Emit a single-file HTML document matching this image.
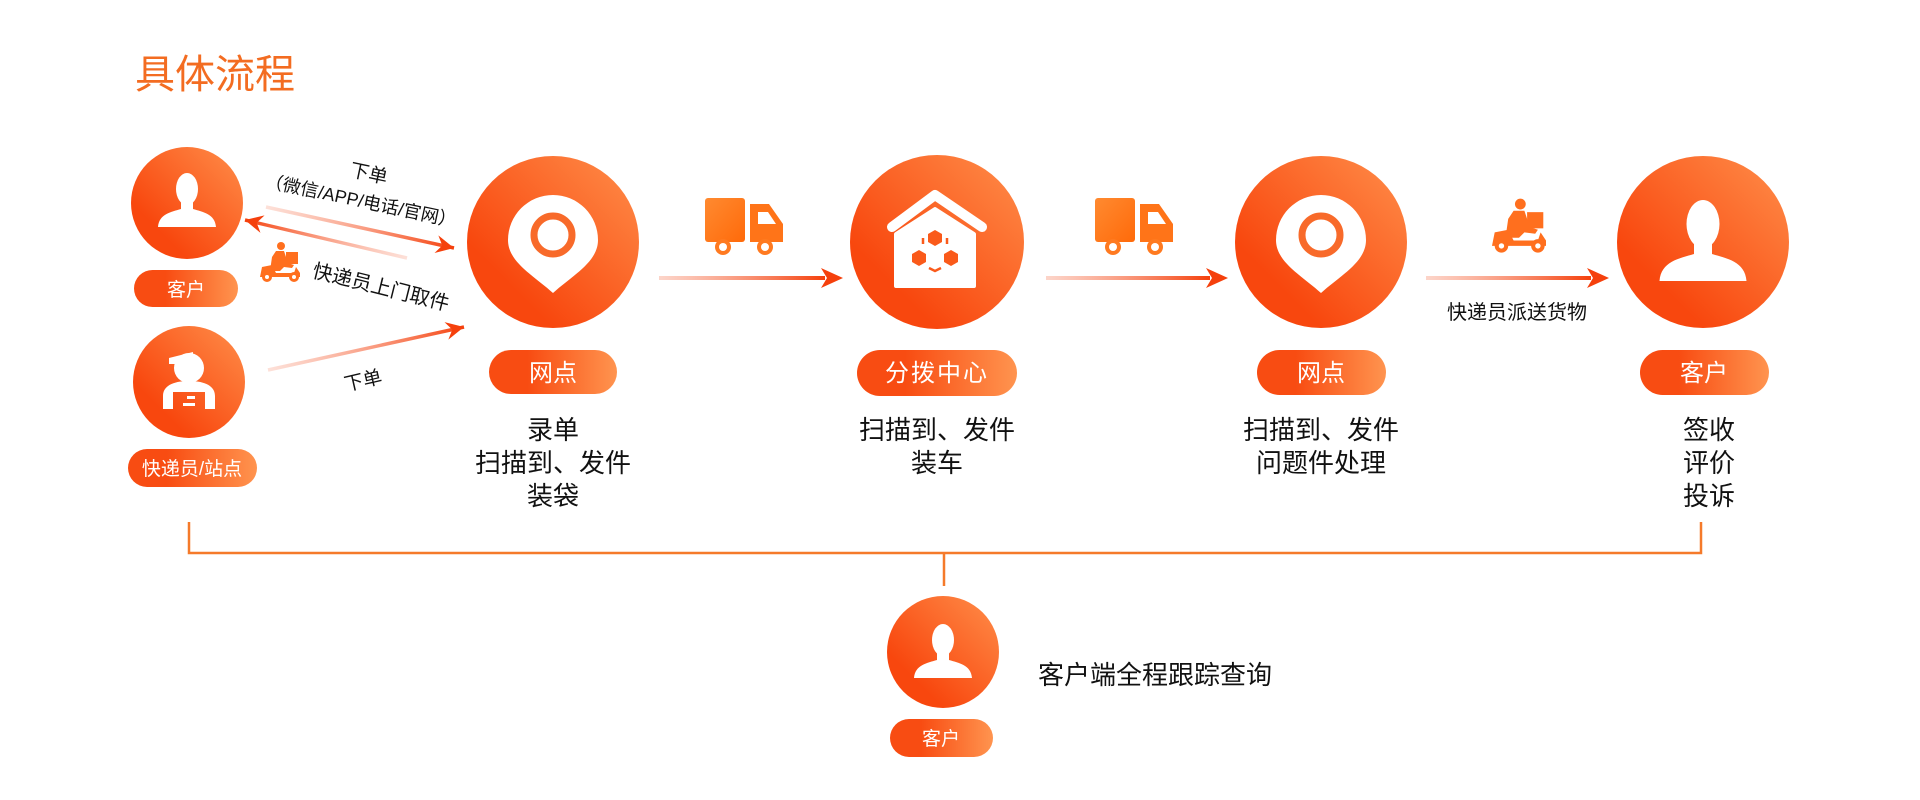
<!DOCTYPE html>
<html><head><meta charset="utf-8"><style>
html,body{margin:0;padding:0;background:#fff;}
svg{display:block;}
text{font-family:"Liberation Sans","Noto Sans CJK SC",sans-serif;}
</style></head><body>
<svg width="1920" height="800" viewBox="0 0 1920 800" xmlns="http://www.w3.org/2000/svg">
<defs>
<linearGradient id="cg" x1="0" y1="1" x2="1" y2="0">
<stop offset="0.25" stop-color="#f8470e"/><stop offset="1" stop-color="#ff8e4a"/></linearGradient>
<linearGradient id="pg" x1="0" y1="0" x2="1" y2="0">
<stop offset="0.3" stop-color="#f84c12"/><stop offset="1" stop-color="#ff944f"/></linearGradient>
<linearGradient id="tg" x1="0" y1="0" x2="1" y2="1">
<stop offset="0" stop-color="#ff8a30"/><stop offset="1" stop-color="#ff6a0a"/></linearGradient>
<linearGradient id="ah" x1="0" y1="0" x2="1" y2="0">
<stop offset="0" stop-color="#fbb9a6" stop-opacity="0.6"/><stop offset="1" stop-color="#f5400c"/></linearGradient>
<linearGradient id="la" gradientUnits="userSpaceOnUse" x1="266" y1="207" x2="454" y2="248">
<stop offset="0" stop-color="#fbc2b2" stop-opacity="0.5"/><stop offset="1" stop-color="#f5400c"/></linearGradient>
<linearGradient id="lb" gradientUnits="userSpaceOnUse" x1="407" y1="258" x2="243" y2="220">
<stop offset="0" stop-color="#fbc2b2" stop-opacity="0.5"/><stop offset="1" stop-color="#f5400c"/></linearGradient>
<linearGradient id="lc" gradientUnits="userSpaceOnUse" x1="268" y1="370" x2="466" y2="327">
<stop offset="0" stop-color="#fbc2b2" stop-opacity="0.5"/><stop offset="1" stop-color="#f5400c"/></linearGradient>
<marker id="arr" markerUnits="userSpaceOnUse" markerWidth="24" markerHeight="20" refX="20" refY="10" orient="auto">
<path d="M20,10 L2,1 L8,10 L2,19 Z" fill="#f5400c"/></marker>
<g id="person">
<ellipse cx="0" cy="-14" rx="11" ry="16" fill="#fff"/>
<path d="M-6,-2 L-6,6 C-16,9 -28,11 -29,24 L29,24 C28,11 16,9 6,6 L6,-2 Z" fill="#fff"/>
</g>
<g id="pin">
<path d="M0,53 C-20,35 -45,22 -45,0 A45,45 0 0 1 45,0 C45,22 20,35 0,53 Z" fill="#fff"/>
<circle cx="0" cy="-5" r="19" fill="none" stroke="#f86a2a" stroke-width="7"/>
</g>
<g id="truck">
<rect x="0" y="0" width="40" height="44" rx="3" fill="url(#tg)"/>
<path d="M45,6 L64,6 L78,26 L78,44 L45,44 Z" fill="#ff7418"/>
<path d="M53,14 L63,14 L71,26 L53,26 Z" fill="#fff"/>
<circle cx="18" cy="49" r="8" fill="#ff7a20"/><circle cx="18" cy="49" r="4" fill="#fff"/>
<circle cx="60" cy="49" r="8" fill="#ff7a20"/><circle cx="60" cy="49" r="4" fill="#fff"/>
</g>
<g id="scooter" fill="#ff6f1e">
<circle cx="21" cy="3" r="4"/>
<path d="M16,8 L24,8 L28,20 L34,22 L32,25 L24,24 L20,28 L10,28 L12,14 Z"/>
<rect x="26" y="9" width="12" height="12"/>
<path d="M2,24 L12,22 L16,30 L34,30 L36,24 L40,30 L40,34 L0,34 Z"/>
<circle cx="7" cy="34" r="5"/><circle cx="34" cy="34" r="5"/>
<circle cx="7" cy="34" r="2" fill="#fff"/><circle cx="34" cy="34" r="2" fill="#fff"/>
</g>
</defs>

<text x="135" y="88" font-size="40" fill="#f36c21">具体流程</text>

<!-- left customer -->
<circle cx="187" cy="203" r="56" fill="url(#cg)"/>
<use href="#person" transform="translate(187,203)"/>
<rect x="134" y="270" width="104" height="37" rx="18.5" fill="url(#pg)"/>
<text x="186" y="296" font-size="19" fill="#fff" text-anchor="middle">客户</text>

<!-- courier -->
<circle cx="189" cy="382" r="56" fill="url(#cg)"/>
<g transform="translate(189,382)" fill="#fff">
<circle cx="0" cy="-14" r="15"/>
<path d="M-20,-24 L4,-30 L4,-18 L-20,-18 Z"/>
<path d="M-26,27 L-26,14 C-26,2 -12,-1 0,-1 C12,-1 26,2 26,14 L26,27 L16,27 L16,10 L-16,10 L-16,27 Z"/>
<rect x="-2" y="14" width="8" height="3"/><rect x="-6" y="21" width="12" height="3"/>
</g>
<rect x="128" y="449" width="129" height="38" rx="19" fill="url(#pg)"/>
<text x="192" y="475" font-size="19" fill="#fff" text-anchor="middle">快递员/站点</text>

<!-- left arrows -->
<line x1="266" y1="207" x2="454" y2="248" stroke="url(#la)" stroke-width="3.5" marker-end="url(#arr)"/>
<line x1="407" y1="258" x2="245" y2="220" stroke="url(#lb)" stroke-width="3.5" marker-end="url(#arr)"/>
<line x1="268" y1="370" x2="464" y2="327" stroke="url(#lc)" stroke-width="3.5" marker-end="url(#arr)"/>
<text x="369" y="180" font-size="19" fill="#111" text-anchor="middle" transform="rotate(12 369 173)">下单</text>
<text x="361" y="207" font-size="18" fill="#111" text-anchor="middle" transform="rotate(12 361 200)">（微信/APP/电话/官网）</text>
<use href="#scooter" transform="translate(260,243)"/>
<text x="381" y="294" font-size="20" fill="#111" text-anchor="middle" transform="rotate(14 381 287)">快递员上门取件</text>
<text x="363" y="387" font-size="19" fill="#111" text-anchor="middle" transform="rotate(-13 363 380)">下单</text>

<!-- 网点 1 -->
<circle cx="553" cy="242" r="86" fill="url(#cg)"/>
<use href="#pin" transform="translate(553,240)"/>
<rect x="489" y="350" width="128" height="44" rx="22" fill="url(#pg)"/>
<text x="553" y="381" font-size="24" fill="#fff" text-anchor="middle">网点</text>
<text x="553" y="439" font-size="26" fill="#111" text-anchor="middle">录单</text>
<text x="553" y="472" font-size="26" fill="#111" text-anchor="middle">扫描到、发件</text>
<text x="553" y="505" font-size="26" fill="#111" text-anchor="middle">装袋</text>

<!-- arrow 1 -->
<use href="#truck" transform="translate(705,198)"/>
<rect x="659" y="276" width="166" height="4" fill="url(#ah)"/>
<path d="M843,278 L821,268 L827,278 L821,288 Z" fill="#f5400c"/>

<!-- 分拨中心 -->
<circle cx="937" cy="242" r="87" fill="url(#cg)"/>
<g transform="translate(937,242)">
<path d="M-45,-15 L-2,-47 L45,-15" fill="none" stroke="#fff" stroke-width="10" stroke-linecap="round" stroke-linejoin="round"/>
<path d="M-41,44 L-41,-8 L-2,-33 L37,-8 L37,44 Z" fill="#fff" stroke="#fff" stroke-width="4" stroke-linejoin="round"/>
<g fill="#fa5a1a">
<path d="M-2,-12 l7,4 l0,8 l-7,4 l-7,-4 l0,-8 Z"/>
<path d="M-18,8 l7,4 l0,8 l-7,4 l-7,-4 l0,-8 Z"/>
<path d="M14,8 l7,4 l0,8 l-7,4 l-7,-4 l0,-8 Z"/>
</g>
<path d="M-14,2 L-14,-4 M10,-4 L10,2 M-8,26 L-2,29 L4,26" stroke="#fa5a1a" stroke-width="2.5" fill="none"/>
</g>
<rect x="857" y="350" width="160" height="46" rx="23" fill="url(#pg)"/>
<text x="937" y="381" font-size="24" fill="#fff" text-anchor="middle" letter-spacing="2">分拨中心</text>
<text x="937" y="439" font-size="26" fill="#111" text-anchor="middle">扫描到、发件</text>
<text x="937" y="472" font-size="26" fill="#111" text-anchor="middle">装车</text>

<!-- arrow 2 -->
<use href="#truck" transform="translate(1095,198)"/>
<rect x="1046" y="276" width="164" height="4" fill="url(#ah)"/>
<path d="M1228,278 L1206,268 L1212,278 L1206,288 Z" fill="#f5400c"/>

<!-- 网点 2 -->
<circle cx="1321" cy="242" r="86" fill="url(#cg)"/>
<use href="#pin" transform="translate(1321,240)"/>
<rect x="1257" y="350" width="129" height="45" rx="22.5" fill="url(#pg)"/>
<text x="1321" y="381" font-size="24" fill="#fff" text-anchor="middle">网点</text>
<text x="1321" y="439" font-size="26" fill="#111" text-anchor="middle">扫描到、发件</text>
<text x="1321" y="472" font-size="26" fill="#111" text-anchor="middle">问题件处理</text>

<!-- arrow 3 -->
<use href="#scooter" transform="translate(1492,200) scale(1.35)"/>
<rect x="1426" y="276" width="165" height="4" fill="url(#ah)"/>
<path d="M1609,278 L1587,268 L1593,278 L1587,288 Z" fill="#f5400c"/>
<text x="1517" y="319" font-size="20" fill="#111" text-anchor="middle">快递员派送货物</text>

<!-- right customer -->
<circle cx="1703" cy="242" r="86" fill="url(#cg)"/>
<use href="#person" transform="translate(1703,245) scale(1.5)"/>
<rect x="1640" y="350" width="129" height="45" rx="22.5" fill="url(#pg)"/>
<text x="1704" y="381" font-size="24" fill="#fff" text-anchor="middle">客户</text>
<text x="1709" y="439" font-size="26" fill="#111" text-anchor="middle">签收</text>
<text x="1709" y="472" font-size="26" fill="#111" text-anchor="middle">评价</text>
<text x="1709" y="505" font-size="26" fill="#111" text-anchor="middle">投诉</text>

<!-- bracket -->
<path d="M189,522 L189,553 L1701,553 L1701,522" fill="none" stroke="#f57a2a" stroke-width="2.5"/>
<line x1="944" y1="553" x2="944" y2="586" stroke="#f57a2a" stroke-width="2.5"/>

<!-- bottom customer -->
<circle cx="943" cy="652" r="56" fill="url(#cg)"/>
<use href="#person" transform="translate(943,654)"/>
<rect x="890" y="719" width="103" height="38" rx="19" fill="url(#pg)"/>
<text x="941" y="745" font-size="19" fill="#fff" text-anchor="middle">客户</text>
<text x="1038" y="684" font-size="26" fill="#111">客户端全程跟踪查询</text>
</svg>
</body></html>
